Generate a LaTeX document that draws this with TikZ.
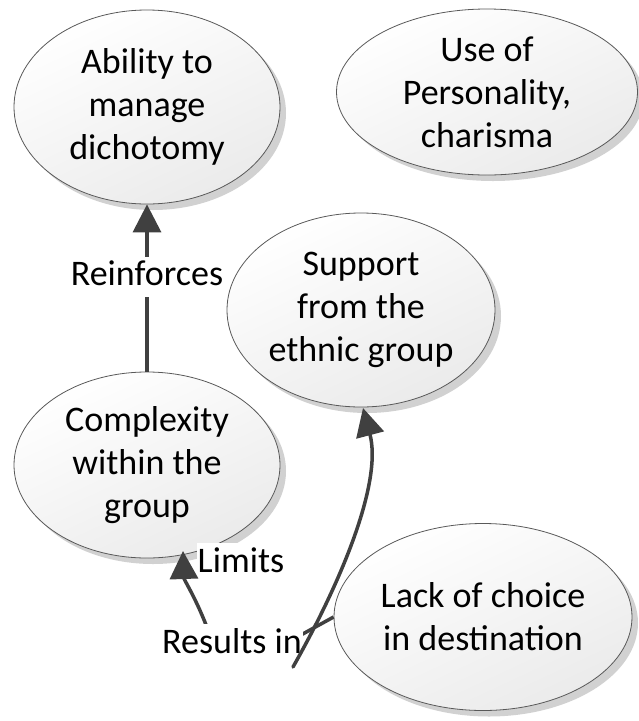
\documentclass[tikz,border=0pt]{standalone}
\usepackage{fontspec}
\setmainfont{Carlito}
\usetikzlibrary{shapes.geometric,arrows.meta,shadows}
\begin{document}
\begin{tikzpicture}[x=1pt,y=-1pt,
  font=\fontsize{36}{43}\selectfont,
  bubble/.style={ellipse, draw=black!65, line width=0.8pt, inner sep=0pt, align=center,
    top color=white, bottom color=black!8, shading angle=25,
    drop shadow={shadow xshift=6pt, shadow yshift=-6pt, fill=black!18, opacity=1}},
  link/.style={draw=black!75, line width=3.5pt},
  tip/.style={-{Triangle[length=28pt,width=28pt]}},
  tag/.style={fill=white, inner xsep=1pt, inner ysep=3pt, text height=26pt, text depth=8pt}
]
\useasboundingbox (0,0) rectangle (639,721);

% concept bubbles
\node[bubble, minimum width=266pt, minimum height=194pt] (ability) at (147,107) {Ability to\\manage\\dichotomy};
\node[bubble, minimum width=301pt, minimum height=166pt] (persona) at (487,92) {Use of\\Personality,\\charisma};
\node[bubble, minimum width=268pt, minimum height=194pt] (support) at (361,310) {Support\\from the\\ethnic group};
\node[bubble, minimum width=266pt, minimum height=186pt] (cplx) at (147,465) {Complexity\\within the\\group};
\node[bubble, minimum width=298pt, minimum height=187pt] (lack) at (483,617) {Lack of choice\\in destination};

% complexity reinforces the ability
\draw[link,tip] (cplx.north) -- (ability.south) node[tag, pos=0.566] (reinf) {Reinforces};

% label of the limiting link
\node[tag] (limits) at (241,563) {Limits};

% lack of choice results in complexity
\coordinate (bendA) at (290,641);
\coordinate (bendB) at (208,630);
\coordinate (cplxFoot) at (183,551);
\draw[link,tip] (lack.west) -- (bendA) -- (bendB)
  .. controls (196,598) and (184,580) .. (cplxFoot);
\node[tag] (results) at (232,644) {Results in};

% loose link up to the support bubble
\coordinate (loose) at (293,667);
\coordinate (supFoot) at (363,408);
\draw[link,tip,line cap=round] (loose) .. controls (345,575) and (382,480) .. (supFoot);
\end{tikzpicture}
\end{document}
